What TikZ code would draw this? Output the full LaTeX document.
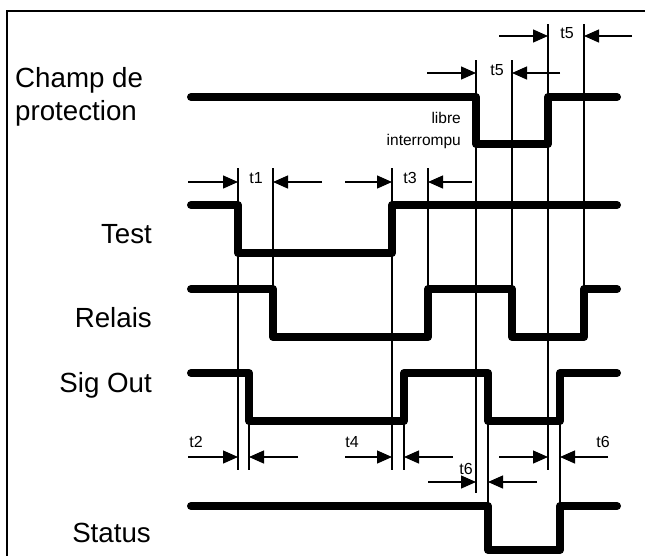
\documentclass[tikz,border=0pt]{standalone}
\usepackage{fontspec}
\setmainfont{Liberation Sans}
\usetikzlibrary{arrows.meta}
\begin{document}
\begin{tikzpicture}[x=1pt,y=-1pt,
  wave/.style={line width=8pt, line cap=round, line join=round},
  guide/.style={line width=1.3pt},
  dimarrow/.style={line width=1.3pt, -{Triangle[length=15pt,width=13pt]}},
  biglabel/.style={font=\fontsize{27.7}{33}\selectfont, inner sep=0pt},
  smalllabel/.style={font=\fontsize{15.5}{18}\selectfont, inner sep=0pt},
  tlabel/.style={font=\fontsize{16}{18}\selectfont, inner sep=0pt, anchor=base}]
\clip (0,0) rectangle (645,555);
\draw[line width=2pt] (7,11) rectangle (670,580);

% signal names
\node[biglabel, anchor=base west] (champ1) at (15,87) {Champ de};
\node[biglabel, anchor=base west] (champ2) at (15,120) {protection};
\node[biglabel, anchor=base east] (test) at (152,243) {Test};
\node[biglabel, anchor=base east] (relais) at (152,327) {Relais};
\node[biglabel, anchor=base east] (sigout) at (152,392) {Sig Out};
\node[biglabel, anchor=base east] (status) at (151,542) {Status};

% waveforms
\draw[wave] (191,97) -- (476,97) -- (476,144) -- (548,144) -- (548,97) -- (617,97);
\draw[wave] (191,205) -- (238,205) -- (238,253) -- (392,253) -- (392,205) -- (617,205);
\draw[wave] (191,289) -- (273,289) -- (273,337) -- (428,337) -- (428,289) -- (512,289) -- (512,337) -- (584,337) -- (584,289) -- (617,289);
\draw[wave] (191,373) -- (249,373) -- (249,421) -- (404,421) -- (404,373) -- (488,373) -- (488,421) -- (560,421) -- (560,373) -- (617,373);
\draw[wave] (191,506) -- (488,506) -- (488,550) -- (560,550) -- (560,506) -- (617,506);

% guide lines
\draw[guide] (238,168) -- (238,470);
\draw[guide] (249,421) -- (249,470);
\draw[guide] (273,168) -- (273,289);
\draw[guide] (392,168) -- (392,470);
\draw[guide] (404,421) -- (404,470);
\draw[guide] (428,168) -- (428,289);
\draw[guide] (476,60) -- (476,493);
\draw[guide] (512,60) -- (512,289);
\draw[guide] (548,24) -- (548,470);
\draw[guide] (584,24) -- (584,289);
\draw[guide] (488,421) -- (488,506);
\draw[guide] (560,421) -- (560,506);

% libre / interrompu
\node[smalllabel, anchor=base east] (libre) at (461,123) {libre};
\node[smalllabel, anchor=base east] (interrompu) at (461,145) {interrompu};

% dimension arrows
\draw[dimarrow] (499,36) -- (548,36);
\draw[dimarrow] (632,36) -- (584,36);
\node[tlabel] (t5a) at (567,38) {t5};

\draw[dimarrow] (427,73) -- (476,73);
\draw[dimarrow] (560,73) -- (512,73);
\node[tlabel] (t5b) at (497,75) {t5};

\draw[dimarrow] (188,182) -- (238,182);
\draw[dimarrow] (322,182) -- (273,182);
\node[tlabel] (t1) at (256,183) {t1};

\draw[dimarrow] (345,182) -- (392,182);
\draw[dimarrow] (472,182) -- (428,182);
\node[tlabel] (t3) at (410,183) {t3};

\draw[dimarrow] (188,457) -- (238,457);
\draw[dimarrow] (298,457) -- (249,457);
\node[tlabel] (t2) at (196,447) {t2};

\draw[dimarrow] (345,457) -- (392,457);
\draw[dimarrow] (453,457) -- (404,457);
\node[tlabel] (t4) at (352,447) {t4};

\draw[dimarrow] (428,482) -- (476,482);
\draw[dimarrow] (537,482) -- (488,482);
\node[tlabel] (t6a) at (466,474) {t6};

\draw[dimarrow] (499,457) -- (548,457);
\draw[dimarrow] (608,457) -- (560,457);
\node[tlabel] (t6b) at (603,447) {t6};
\end{tikzpicture}
\end{document}
